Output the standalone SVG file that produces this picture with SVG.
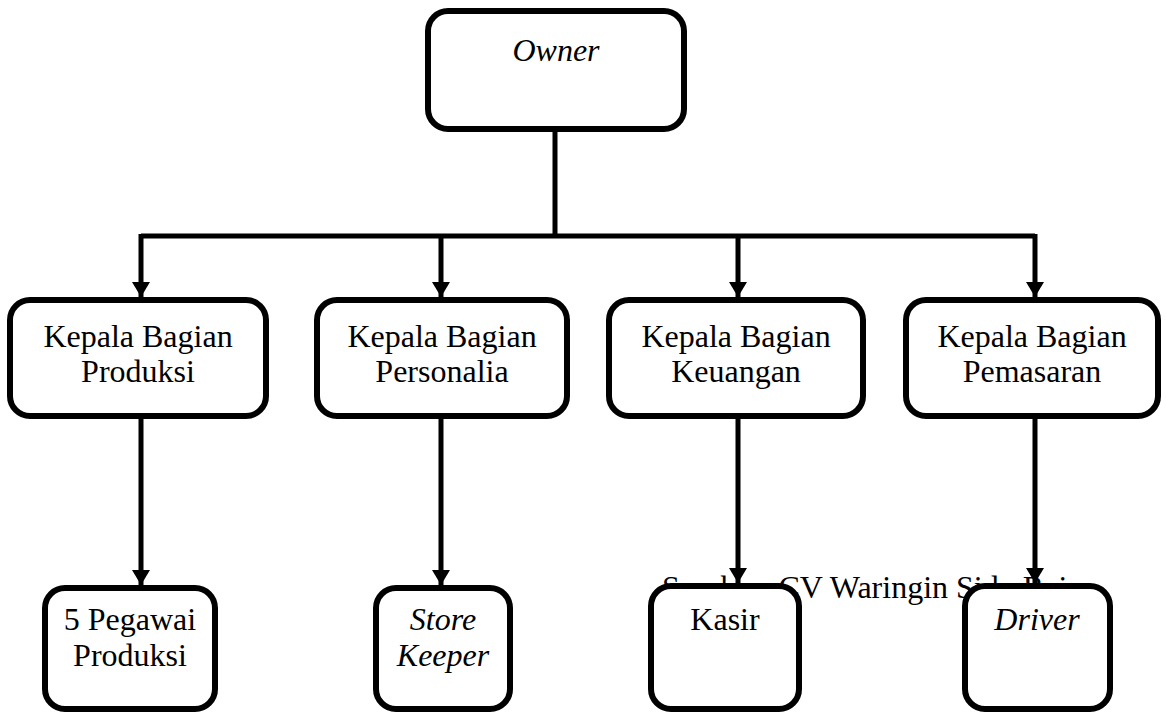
<svg xmlns="http://www.w3.org/2000/svg" width="1166" height="713" viewBox="0 0 1166 713" font-family="Liberation Serif, Times New Roman, serif">
<style>
.box{fill:#fff;stroke:#000;stroke-width:6}
.t{font-size:32px;fill:#000;text-anchor:middle}
.i{font-style:italic}
.src{font-size:32px;fill:#000}
.ln{stroke:#000;stroke-width:5;fill:none}
</style>
<defs>
<marker id="ah" markerUnits="userSpaceOnUse" markerWidth="16" markerHeight="18" refX="15" refY="9" orient="auto">
<path d="M0,0 L15,9 L0,18 Z" fill="#000"/>
</marker>
</defs>
<rect width="1166" height="713" fill="#fff"/>
<text class="src" x="662" y="598" font-family="Liberation Serif, Times New Roman, serif">Sumber: CV Waringin Sido Rejo</text>
<g id="connectors">
<path class="ln" d="M555,132 V236"/>
<path class="ln" d="M141,236 H1035"/>
<path class="ln" d="M141,234 V297" marker-end="url(#ah)"/>
<path class="ln" d="M441,236 V297" marker-end="url(#ah)"/>
<path class="ln" d="M738,236 V297" marker-end="url(#ah)"/>
<path class="ln" d="M1035,234 V297" marker-end="url(#ah)"/>
<path class="ln" d="M141,419 V585" marker-end="url(#ah)"/>
<path class="ln" d="M441,419 V585" marker-end="url(#ah)"/>
<path class="ln" d="M738,419 V583" marker-end="url(#ah)"/>
<path class="ln" d="M1035,419 V583" marker-end="url(#ah)"/>
</g>
<g id="owner" font-family="Liberation Serif, Times New Roman, serif"><rect class="box" x="428" y="11" width="256" height="118" rx="20"/><text class="t i" x="556" y="61">Owner</text></g>
<g id="kb-produksi" font-family="Liberation Serif, Times New Roman, serif"><rect class="box" x="10" y="300" width="256" height="116" rx="20"/><text class="t" x="138" y="347">Kepala Bagian</text><text class="t" x="138" y="382">Produksi</text></g>
<g id="kb-personalia" font-family="Liberation Serif, Times New Roman, serif"><rect class="box" x="317" y="300" width="250" height="116" rx="20"/><text class="t" x="442" y="347">Kepala Bagian</text><text class="t" x="442" y="382">Personalia</text></g>
<g id="kb-keuangan" font-family="Liberation Serif, Times New Roman, serif"><rect class="box" x="609" y="300" width="254" height="116" rx="20"/><text class="t" x="736" y="347">Kepala Bagian</text><text class="t" x="736" y="382">Keuangan</text></g>
<g id="kb-pemasaran" font-family="Liberation Serif, Times New Roman, serif"><rect class="box" x="906" y="300" width="252" height="116" rx="20"/><text class="t" x="1032" y="347">Kepala Bagian</text><text class="t" x="1032" y="382">Pemasaran</text></g>
<g id="pegawai" font-family="Liberation Serif, Times New Roman, serif"><rect class="box" x="45" y="588" width="170" height="121" rx="20"/><text class="t" x="130" y="630">5 Pegawai</text><text class="t" x="130" y="666">Produksi</text></g>
<g id="storekeeper" font-family="Liberation Serif, Times New Roman, serif"><rect class="box" x="376" y="588" width="134" height="121" rx="20"/><text class="t i" x="443" y="630">Store</text><text class="t i" x="443" y="666">Keeper</text></g>
<g id="kasir" font-family="Liberation Serif, Times New Roman, serif"><rect class="box" x="651" y="586" width="148" height="123" rx="20"/><text class="t" x="725" y="630">Kasir</text></g>
<g id="driver" font-family="Liberation Serif, Times New Roman, serif"><rect class="box" x="965" y="586" width="145" height="123" rx="20"/><text class="t i" x="1037" y="630">Driver</text></g>
</svg>
